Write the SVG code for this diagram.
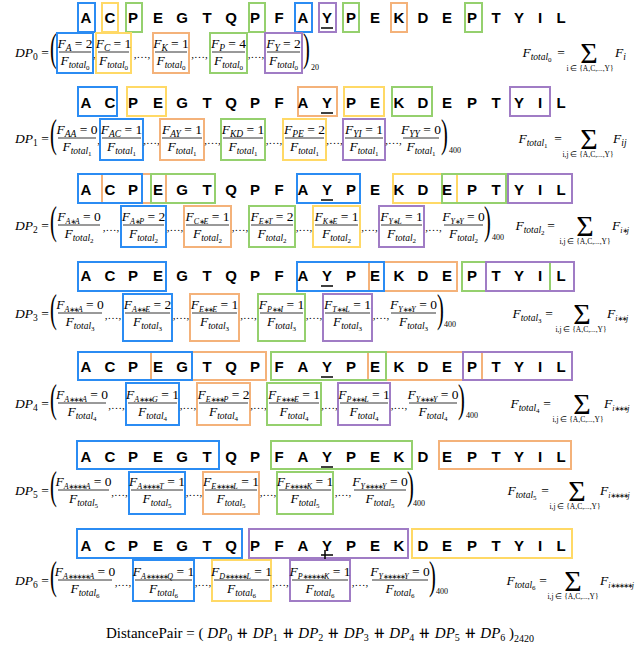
<svg xmlns="http://www.w3.org/2000/svg" width="640" height="651" viewBox="0 0 640 651">
<style>
.sq{font-family:"Liberation Sans",Arial,sans-serif;font-weight:bold;font-size:15px;text-anchor:middle;fill:#000}
.m{font-family:"Liberation Serif","Times New Roman",serif;font-size:13.5px;fill:#000}
.mc{text-anchor:middle}
.it{font-style:italic}
.s1{font-size:9.5px;font-style:italic}
.s3{font-size:8px;font-style:italic}
.st{font-family:"DejaVu Sans",sans-serif;font-style:normal;font-size:7px;letter-spacing:-1.6px}
.s2{font-size:7px;font-style:normal}
.sd{font-size:9.5px;font-style:normal}
.sep{font-family:"Liberation Serif",serif;font-size:11px;text-anchor:middle}
.par{font-family:"Liberation Serif",serif;font-size:41px}
.sig{font-family:"Liberation Serif",serif;font-size:30px;text-anchor:middle}
.ix{font-family:"Liberation Serif",serif;font-size:7.5px;text-anchor:middle}
.cnt{font-family:"Liberation Serif",serif;font-size:8px}
.b{fill:none;stroke-width:2}
.bl{stroke:#2b8cf3}.ye{stroke:#ffd966}.or{stroke:#f4b27a}.gr{stroke:#95d06e}.pu{stroke:#a07cc5}
.fl{stroke:#000;stroke-width:0.8}
.ul{stroke:#000;stroke-width:1.5}
</style>
<defs>
<text id="lp" class="par" transform="scale(0.5,1)">(</text>
<text id="rp" class="par" transform="scale(0.5,1)">)</text>
<text id="sp" class="sep">,…,</text>
<text id="cm" class="sep">,</text>
<text id="d0" class="m mc"><tspan class="it">F</tspan><tspan class="s1" dy="3">total</tspan><tspan class="s2" dy="2">0</tspan></text>
<text id="d1" class="m mc"><tspan class="it">F</tspan><tspan class="s1" dy="3">total</tspan><tspan class="s2" dy="2">1</tspan></text>
<text id="d2" class="m mc"><tspan class="it">F</tspan><tspan class="s1" dy="3">total</tspan><tspan class="s2" dy="2">2</tspan></text>
<text id="d3" class="m mc"><tspan class="it">F</tspan><tspan class="s1" dy="3">total</tspan><tspan class="s2" dy="2">3</tspan></text>
<text id="d4" class="m mc"><tspan class="it">F</tspan><tspan class="s1" dy="3">total</tspan><tspan class="s2" dy="2">4</tspan></text>
<text id="d5" class="m mc"><tspan class="it">F</tspan><tspan class="s1" dy="3">total</tspan><tspan class="s2" dy="2">5</tspan></text>
<text id="d6" class="m mc"><tspan class="it">F</tspan><tspan class="s1" dy="3">total</tspan><tspan class="s2" dy="2">6</tspan></text>
<text id="seqt" class="sq" x="86 110 133 158 182 207 231 255 279 303 327 351 375 399 423 447 472 496 519 540 561">ACPEGTQPFAYPEKDEPTYIL</text>
<line id="u" class="ul" x1="321" x2="333" y1="0" y2="0"/>
<text id="eq" class="m mc">=</text>
<text id="sg" class="sig">Σ</text>
<text id="ix1" class="ix">i,j ∈ {A,C,...,Y}</text>
</defs>

<!-- ROW 0 -->
<g id="seq0">
<rect class="b bl" x="78" y="3" width="17" height="29"/>
<rect class="b ye" x="102" y="3" width="16" height="29"/>
<rect class="b gr" x="126" y="3" width="16" height="29"/>
<rect class="b gr" x="249" y="3" width="16" height="29"/>
<rect class="b bl" x="295" y="3" width="17" height="29"/>
<rect class="b pu" x="319" y="3" width="17" height="29"/>
<rect class="b gr" x="343" y="3" width="16" height="29"/>
<rect class="b or" x="391" y="3" width="16" height="29"/>
<rect class="b gr" x="465" y="3" width="17" height="29"/>
<use href="#seqt" y="23"/>
<use href="#u" y="28"/>
</g>
<g id="dp0">
<text class="m" x="15" y="57"><tspan class="it">DP</tspan><tspan class="sd" dy="3">0</tspan><tspan dy="-3"> =</tspan></text>
<use href="#lp" x="50" y="61"/>
<rect class="b bl" x="57" y="33" width="36" height="40"/>
<text class="m mc" x="75" y="48"><tspan class="it">F</tspan><tspan class="s1" dy="3">A</tspan><tspan dy="-3"> = 2</tspan></text>
<line class="fl" x1="59" x2="91" y1="52" y2="52"/><use href="#d0" x="75" y="65"/>
<use href="#cm" x="94.5" y="58"/>
<rect class="b ye" x="96" y="33" width="35" height="40"/>
<text class="m mc" x="113.5" y="48"><tspan class="it">F</tspan><tspan class="s1" dy="3">C</tspan><tspan dy="-3"> = 1</tspan></text>
<line class="fl" x1="98" x2="129" y1="52" y2="52"/><use href="#d0" x="113.5" y="65"/>
<use href="#sp" x="142" y="58"/>
<rect class="b or" x="153" y="33" width="36" height="40"/>
<text class="m mc" x="171" y="48"><tspan class="it">F</tspan><tspan class="s1" dy="3">K</tspan><tspan dy="-3"> = 1</tspan></text>
<line class="fl" x1="155" x2="187" y1="52" y2="52"/><use href="#d0" x="171" y="65"/>
<use href="#sp" x="199.5" y="58"/>
<rect class="b gr" x="210" y="33" width="37" height="40"/>
<text class="m mc" x="228.5" y="48"><tspan class="it">F</tspan><tspan class="s1" dy="3">P</tspan><tspan dy="-3"> = 4</tspan></text>
<line class="fl" x1="212" x2="245" y1="52" y2="52"/><use href="#d0" x="228.5" y="65"/>
<use href="#sp" x="256" y="58"/>
<rect class="b pu" x="265" y="33" width="37" height="40"/>
<text class="m mc" x="283.5" y="48"><tspan class="it">F</tspan><tspan class="s1" dy="3">Y</tspan><tspan dy="-3"> = 2</tspan></text>
<line class="fl" x1="267" x2="300" y1="52" y2="52"/><use href="#d0" x="283.5" y="65"/>
<use href="#rp" x="303" y="61"/>
<text class="cnt" x="311" y="70">20</text>
<use href="#d0" x="537" y="57"/><use href="#eq" x="561" y="57"/><use href="#sg" x="589" y="63"/>
<text class="ix" x="590" y="71">i ∈ {A,C,...,Y}</text>
<text class="m" x="615" y="57"><tspan class="it">F</tspan><tspan class="s1" dy="3">i</tspan></text>
</g>

<!-- ROW 1 -->
<g id="seq1">
<rect class="b bl" x="78" y="87" width="39" height="29"/>
<rect class="b ye" x="127" y="87" width="39" height="29"/>
<rect class="b or" x="298" y="87" width="39" height="29"/>
<rect class="b ye" x="344" y="87" width="40" height="29"/>
<rect class="b gr" x="392" y="87" width="40" height="29"/>
<rect class="b pu" x="510" y="87" width="40" height="29"/>
<use href="#seqt" y="108"/>
<use href="#u" y="113"/>
</g>
<g id="dp1">
<text class="m" x="15" y="143"><tspan class="it">DP</tspan><tspan class="sd" dy="3">1</tspan><tspan dy="-3"> =</tspan></text>
<use href="#lp" x="50" y="147"/>
<text class="m mc" x="77" y="134"><tspan class="it">F</tspan><tspan class="s1" dy="3">AA</tspan><tspan dy="-3"> = 0</tspan></text>
<line class="fl" x1="58" x2="96" y1="138" y2="138"/><use href="#d1" x="77" y="151"/>
<use href="#cm" x="98.5" y="144"/>
<rect class="b bl" x="100" y="119" width="43" height="41"/>
<text class="m mc" x="121.5" y="134"><tspan class="it">F</tspan><tspan class="s1" dy="3">AC</tspan><tspan dy="-3"> = 1</tspan></text>
<line class="fl" x1="102" x2="141" y1="138" y2="138"/><use href="#d1" x="121.5" y="151"/>
<use href="#sp" x="151.5" y="144"/>
<rect class="b or" x="160" y="119" width="44" height="41"/>
<text class="m mc" x="182" y="134"><tspan class="it">F</tspan><tspan class="s1" dy="3">AY</tspan><tspan dy="-3"> = 1</tspan></text>
<line class="fl" x1="162" x2="202" y1="138" y2="138"/><use href="#d1" x="182" y="151"/>
<use href="#sp" x="212.5" y="144"/>
<rect class="b gr" x="221" y="119" width="44" height="41"/>
<text class="m mc" x="243" y="134"><tspan class="it">F</tspan><tspan class="s1" dy="3">KD</tspan><tspan dy="-3"> = 1</tspan></text>
<line class="fl" x1="223" x2="263" y1="138" y2="138"/><use href="#d1" x="243" y="151"/>
<use href="#sp" x="274" y="144"/>
<rect class="b ye" x="283" y="119" width="43" height="41"/>
<text class="m mc" x="304.5" y="134"><tspan class="it">F</tspan><tspan class="s1" dy="3">PE</tspan><tspan dy="-3"> = 2</tspan></text>
<line class="fl" x1="285" x2="324" y1="138" y2="138"/><use href="#d1" x="304.5" y="151"/>
<use href="#sp" x="334.5" y="144"/>
<rect class="b pu" x="343" y="119" width="42" height="41"/>
<text class="m mc" x="364" y="134"><tspan class="it">F</tspan><tspan class="s1" dy="3">YI</tspan><tspan dy="-3"> = 1</tspan></text>
<line class="fl" x1="345" x2="383" y1="138" y2="138"/><use href="#d1" x="364" y="151"/>
<use href="#sp" x="393.5" y="144"/>
<text class="m mc" x="421" y="134"><tspan class="it">F</tspan><tspan class="s1" dy="3">YY</tspan><tspan dy="-3"> = 0</tspan></text>
<line class="fl" x1="403" x2="439" y1="138" y2="138"/><use href="#d1" x="421" y="151"/>
<use href="#rp" x="441" y="147"/>
<text class="cnt" x="449" y="153">400</text>
<use href="#d1" x="533" y="143"/><use href="#eq" x="558" y="143"/><use href="#sg" x="589" y="149"/>
<use href="#ix1" x="588" y="157"/>
<text class="m" x="613" y="143"><tspan class="it">F</tspan><tspan class="s1" dy="3">ij</tspan></text>
</g>

<!-- ROW 2 -->
<g id="seq2">
<rect class="b or" x="102" y="174" width="64" height="29"/>
<rect class="b bl" x="78" y="174" width="64" height="29"/>
<rect class="b gr" x="151" y="174" width="64" height="29"/>
<rect class="b bl" x="297" y="174" width="63" height="29"/>
<rect class="b ye" x="393" y="174" width="64" height="29"/>
<rect class="b gr" x="442" y="174" width="64" height="29"/>
<rect class="b pu" x="508" y="174" width="64" height="29"/>
<use href="#seqt" y="195"/>
<use href="#u" y="200"/>
</g>
<g id="dp2">
<text class="m" x="15" y="230"><tspan class="it">DP</tspan><tspan class="sd" dy="3">2</tspan><tspan dy="-3"> =</tspan></text>
<use href="#lp" x="50" y="234"/>
<text class="m mc" x="79" y="221"><tspan class="it">F</tspan><tspan class="s3" dy="3">A<tspan class="st">∗</tspan>A</tspan><tspan dy="-3"> = 0</tspan></text>
<line class="fl" x1="58" x2="100" y1="225" y2="225"/><use href="#d2" x="79" y="238"/>
<use href="#sp" x="111" y="231"/>
<rect class="b bl" x="121" y="206" width="45" height="41"/>
<text class="m mc" x="143.5" y="221"><tspan class="it">F</tspan><tspan class="s3" dy="3">A<tspan class="st">∗</tspan>P</tspan><tspan dy="-3"> = 2</tspan></text>
<line class="fl" x1="123" x2="164" y1="225" y2="225"/><use href="#d2" x="143.5" y="238"/>
<use href="#sp" x="175" y="231"/>
<rect class="b or" x="184" y="206" width="47" height="41"/>
<text class="m mc" x="207.5" y="221"><tspan class="it">F</tspan><tspan class="s3" dy="3">C<tspan class="st">∗</tspan>E</tspan><tspan dy="-3"> = 1</tspan></text>
<line class="fl" x1="186" x2="229" y1="225" y2="225"/><use href="#d2" x="207.5" y="238"/>
<use href="#sp" x="240" y="231"/>
<rect class="b gr" x="249" y="206" width="46" height="41"/>
<text class="m mc" x="272" y="221"><tspan class="it">F</tspan><tspan class="s3" dy="3">E<tspan class="st">∗</tspan>T</tspan><tspan dy="-3"> = 2</tspan></text>
<line class="fl" x1="251" x2="293" y1="225" y2="225"/><use href="#d2" x="272" y="238"/>
<use href="#sp" x="304" y="231"/>
<rect class="b ye" x="313" y="206" width="47" height="41"/>
<text class="m mc" x="336.5" y="221"><tspan class="it">F</tspan><tspan class="s3" dy="3">K<tspan class="st">∗</tspan>E</tspan><tspan dy="-3"> = 1</tspan></text>
<line class="fl" x1="315" x2="358" y1="225" y2="225"/><use href="#d2" x="336.5" y="238"/>
<use href="#sp" x="369.5" y="231"/>
<rect class="b pu" x="379" y="206" width="45" height="41"/>
<text class="m mc" x="401.5" y="221"><tspan class="it">F</tspan><tspan class="s3" dy="3">Y<tspan class="st">∗</tspan>L</tspan><tspan dy="-3"> = 1</tspan></text>
<line class="fl" x1="381" x2="422" y1="225" y2="225"/><use href="#d2" x="401.5" y="238"/>
<use href="#sp" x="433.5" y="231"/>
<text class="m mc" x="463.5" y="221"><tspan class="it">F</tspan><tspan class="s3" dy="3">Y<tspan class="st">∗</tspan>Y</tspan><tspan dy="-3"> = 0</tspan></text>
<line class="fl" x1="444" x2="483" y1="225" y2="225"/><use href="#d2" x="463.5" y="238"/>
<use href="#rp" x="484" y="234"/>
<text class="cnt" x="492" y="240">400</text>
<use href="#d2" x="530" y="230"/><use href="#eq" x="551" y="230"/><use href="#sg" x="585" y="236"/>
<use href="#ix1" x="585" y="244"/>
<text class="m" x="612" y="230"><tspan class="it">F</tspan><tspan class="s3" dy="3">i<tspan class="st">∗</tspan>j</tspan></text>
</g>

<!-- ROW 3 -->
<g id="seq3">
<rect class="b bl" x="78" y="262" width="88" height="29"/>
<rect class="b or" x="369" y="262" width="88" height="29"/>
<rect class="b bl" x="297" y="262" width="87" height="29"/>
<rect class="b gr" x="462" y="262" width="88" height="29"/>
<rect class="b pu" x="486" y="262" width="88" height="29"/>
<use href="#seqt" y="281"/>
<use href="#u" y="286"/>
</g>
<g id="dp3">
<text class="m" x="15" y="318"><tspan class="it">DP</tspan><tspan class="sd" dy="3">3</tspan><tspan dy="-3"> =</tspan></text>
<use href="#lp" x="50" y="322"/>
<text class="m mc" x="80" y="309"><tspan class="it">F</tspan><tspan class="s3" dy="3">A<tspan class="st">∗∗</tspan>A</tspan><tspan dy="-3"> = 0</tspan></text>
<line class="fl" x1="58" x2="102" y1="313" y2="313"/><use href="#d3" x="80" y="326"/>
<use href="#sp" x="113" y="319"/>
<rect class="b bl" x="123" y="294" width="49" height="47"/>
<text class="m mc" x="147.5" y="309"><tspan class="it">F</tspan><tspan class="s3" dy="3">A<tspan class="st">∗∗</tspan>E</tspan><tspan dy="-3"> = 2</tspan></text>
<line class="fl" x1="125" x2="170" y1="313" y2="313"/><use href="#d3" x="147.5" y="326"/>
<use href="#sp" x="181" y="319"/>
<rect class="b or" x="190" y="294" width="49" height="47"/>
<text class="m mc" x="214.5" y="309"><tspan class="it">F</tspan><tspan class="s3" dy="3">E<tspan class="st">∗∗</tspan>E</tspan><tspan dy="-3"> = 1</tspan></text>
<line class="fl" x1="192" x2="237" y1="313" y2="313"/><use href="#d3" x="214.5" y="326"/>
<use href="#sp" x="248.5" y="319"/>
<rect class="b gr" x="258" y="294" width="47" height="47"/>
<text class="m mc" x="281.5" y="309"><tspan class="it">F</tspan><tspan class="s3" dy="3">P<tspan class="st">∗∗</tspan>I</tspan><tspan dy="-3"> = 1</tspan></text>
<line class="fl" x1="260" x2="303" y1="313" y2="313"/><use href="#d3" x="281.5" y="326"/>
<use href="#sp" x="314" y="319"/>
<rect class="b pu" x="323" y="294" width="49" height="47"/>
<text class="m mc" x="347.5" y="309"><tspan class="it">F</tspan><tspan class="s3" dy="3">T<tspan class="st">∗∗</tspan>L</tspan><tspan dy="-3"> = 1</tspan></text>
<line class="fl" x1="325" x2="370" y1="313" y2="313"/><use href="#d3" x="347.5" y="326"/>
<use href="#sp" x="381" y="319"/>
<text class="m mc" x="413.5" y="309"><tspan class="it">F</tspan><tspan class="s3" dy="3">Y<tspan class="st">∗∗</tspan>Y</tspan><tspan dy="-3"> = 0</tspan></text>
<line class="fl" x1="391" x2="436" y1="313" y2="313"/><use href="#d3" x="413.5" y="326"/>
<use href="#rp" x="437" y="322"/>
<text class="cnt" x="444" y="327">400</text>
<use href="#d3" x="527" y="318"/><use href="#eq" x="549" y="318"/><use href="#sg" x="582" y="324"/>
<use href="#ix1" x="581" y="332"/>
<text class="m" x="607" y="318"><tspan class="it">F</tspan><tspan class="s3" dy="3">i<tspan class="st">∗∗</tspan>j</tspan></text>
</g>

<!-- ROW 4 -->
<g id="seq4">
<rect class="b or" x="151" y="352" width="115" height="28"/>
<rect class="b bl" x="78" y="352" width="114" height="28"/>
<rect class="b or" x="368" y="352" width="114" height="28"/>
<rect class="b gr" x="271" y="352" width="115" height="28"/>
<rect class="b pu" x="463" y="352" width="109" height="28"/>
<use href="#seqt" y="372"/>
<use href="#u" y="377"/>
</g>
<g id="dp4">
<text class="m" x="15" y="408"><tspan class="it">DP</tspan><tspan class="sd" dy="3">4</tspan><tspan dy="-3"> =</tspan></text>
<use href="#lp" x="50" y="412"/>
<text class="m mc" x="82" y="399"><tspan class="it">F</tspan><tspan class="s3" dy="3">A<tspan class="st">∗∗∗</tspan>A</tspan><tspan dy="-3"> = 0</tspan></text>
<line class="fl" x1="58" x2="106" y1="403" y2="403"/><use href="#d4" x="82" y="416"/>
<use href="#sp" x="116.5" y="409"/>
<rect class="b bl" x="126" y="383" width="53" height="42"/>
<text class="m mc" x="152.5" y="399"><tspan class="it">F</tspan><tspan class="s3" dy="3">A<tspan class="st">∗∗∗</tspan>G</tspan><tspan dy="-3"> = 1</tspan></text>
<line class="fl" x1="128" x2="177" y1="403" y2="403"/><use href="#d4" x="152.5" y="416"/>
<use href="#sp" x="188" y="409"/>
<rect class="b or" x="197" y="383" width="53" height="42"/>
<text class="m mc" x="223.5" y="399"><tspan class="it">F</tspan><tspan class="s3" dy="3">E<tspan class="st">∗∗∗</tspan>P</tspan><tspan dy="-3"> = 2</tspan></text>
<line class="fl" x1="199" x2="248" y1="403" y2="403"/><use href="#d4" x="223.5" y="416"/>
<use href="#sp" x="258.5" y="409"/>
<rect class="b gr" x="267" y="383" width="54" height="42"/>
<text class="m mc" x="294" y="399"><tspan class="it">F</tspan><tspan class="s3" dy="3">F<tspan class="st">∗∗∗</tspan>E</tspan><tspan dy="-3"> = 1</tspan></text>
<line class="fl" x1="269" x2="319" y1="403" y2="403"/><use href="#d4" x="294" y="416"/>
<use href="#sp" x="329.5" y="409"/>
<rect class="b pu" x="338" y="383" width="52" height="42"/>
<text class="m mc" x="364" y="399"><tspan class="it">F</tspan><tspan class="s3" dy="3">P<tspan class="st">∗∗∗</tspan>L</tspan><tspan dy="-3"> = 1</tspan></text>
<line class="fl" x1="340" x2="388" y1="403" y2="403"/><use href="#d4" x="364" y="416"/>
<use href="#sp" x="399" y="409"/>
<text class="m mc" x="433" y="399"><tspan class="it">F</tspan><tspan class="s3" dy="3">Y<tspan class="st">∗∗∗</tspan>Y</tspan><tspan dy="-3"> = 0</tspan></text>
<line class="fl" x1="409" x2="457" y1="403" y2="403"/><use href="#d4" x="433" y="416"/>
<use href="#rp" x="458" y="412"/>
<text class="cnt" x="466" y="418">400</text>
<use href="#d4" x="525" y="408"/><use href="#eq" x="547" y="408"/><use href="#sg" x="582" y="414"/>
<use href="#ix1" x="578" y="422"/>
<text class="m" x="604" y="408"><tspan class="it">F</tspan><tspan class="s3" dy="3">i<tspan class="st">∗∗∗</tspan>j</tspan></text>
</g>

<!-- ROW 5 -->
<g id="seq5">
<rect class="b bl" x="77" y="441" width="142" height="28"/>
<rect class="b gr" x="271" y="441" width="141" height="28"/>
<rect class="b or" x="439" y="441" width="132" height="28"/>
<use href="#seqt" y="462"/>
<use href="#u" y="467"/>
</g>
<g id="dp5">
<text class="m" x="15" y="495"><tspan class="it">DP</tspan><tspan class="sd" dy="3">5</tspan><tspan dy="-3"> =</tspan></text>
<use href="#lp" x="50" y="499"/>
<text class="m mc" x="83.5" y="486"><tspan class="it">F</tspan><tspan class="s3" dy="3">A<tspan class="st">∗∗∗∗</tspan>A</tspan><tspan dy="-3"> = 0</tspan></text>
<line class="fl" x1="58" x2="109" y1="490" y2="490"/><use href="#d5" x="83.5" y="503"/>
<use href="#sp" x="119.5" y="496"/>
<rect class="b bl" x="129" y="472" width="56" height="42"/>
<text class="m mc" x="157" y="486"><tspan class="it">F</tspan><tspan class="s3" dy="3">A<tspan class="st">∗∗∗∗</tspan>T</tspan><tspan dy="-3"> = 1</tspan></text>
<line class="fl" x1="131" x2="183" y1="490" y2="490"/><use href="#d5" x="157" y="503"/>
<use href="#sp" x="194" y="496"/>
<rect class="b or" x="203" y="472" width="56" height="42"/>
<text class="m mc" x="231" y="486"><tspan class="it">F</tspan><tspan class="s3" dy="3">E<tspan class="st">∗∗∗∗</tspan>L</tspan><tspan dy="-3"> = 1</tspan></text>
<line class="fl" x1="205" x2="257" y1="490" y2="490"/><use href="#d5" x="231" y="503"/>
<use href="#sp" x="268" y="496"/>
<rect class="b gr" x="277" y="472" width="56" height="42"/>
<text class="m mc" x="305" y="486"><tspan class="it">F</tspan><tspan class="s3" dy="3">F<tspan class="st">∗∗∗∗</tspan>K</tspan><tspan dy="-3"> = 1</tspan></text>
<line class="fl" x1="279" x2="331" y1="490" y2="490"/><use href="#d5" x="305" y="503"/>
<use href="#sp" x="343" y="496"/>
<text class="m mc" x="380" y="486"><tspan class="it">F</tspan><tspan class="s3" dy="3">Y<tspan class="st">∗∗∗∗</tspan>Y</tspan><tspan dy="-3"> = 0</tspan></text>
<line class="fl" x1="354" x2="406" y1="490" y2="490"/><use href="#d5" x="380" y="503"/>
<use href="#rp" x="407" y="499"/>
<text class="cnt" x="413" y="506">400</text>
<use href="#d5" x="522" y="495"/><use href="#eq" x="545" y="495"/><use href="#sg" x="577" y="501"/>
<use href="#ix1" x="575" y="509"/>
<text class="m" x="600" y="495"><tspan class="it">F</tspan><tspan class="s3" dy="3">i<tspan class="st">∗∗∗∗</tspan>j</tspan></text>
</g>

<!-- ROW 6 -->
<g id="seq6">
<rect class="b bl" x="77" y="529" width="165" height="29"/>
<rect class="b pu" x="249" y="529" width="159" height="29"/>
<rect class="b ye" x="412" y="529" width="160" height="29"/>
<use href="#seqt" y="551"/>
<use href="#u" y="555"/>
<line class="ul" x1="325" y1="550" x2="325" y2="560" stroke-width="1"/>
</g>
<g id="dp6">
<text class="m" x="15" y="585"><tspan class="it">DP</tspan><tspan class="sd" dy="3">6</tspan><tspan dy="-3"> =</tspan></text>
<use href="#lp" x="50" y="589"/>
<text class="m mc" x="85" y="576"><tspan class="it">F</tspan><tspan class="s3" dy="3">A<tspan class="st">∗∗∗∗∗</tspan>A</tspan><tspan dy="-3"> = 0</tspan></text>
<line class="fl" x1="58" x2="112" y1="580" y2="580"/><use href="#d6" x="85" y="593"/>
<use href="#sp" x="123" y="586"/>
<rect class="b bl" x="133" y="560" width="61" height="41"/>
<text class="m mc" x="163.5" y="576"><tspan class="it">F</tspan><tspan class="s3" dy="3">A<tspan class="st">∗∗∗∗∗</tspan>Q</tspan><tspan dy="-3"> = 1</tspan></text>
<line class="fl" x1="135" x2="192" y1="580" y2="580"/><use href="#d6" x="163.5" y="593"/>
<use href="#sp" x="203" y="586"/>
<rect class="b ye" x="212" y="560" width="59" height="41"/>
<text class="m mc" x="241.5" y="576"><tspan class="it">F</tspan><tspan class="s3" dy="3">D<tspan class="st">∗∗∗∗∗</tspan>L</tspan><tspan dy="-3"> = 1</tspan></text>
<line class="fl" x1="214" x2="269" y1="580" y2="580"/><use href="#d6" x="241.5" y="593"/>
<use href="#sp" x="280.5" y="586"/>
<rect class="b pu" x="290" y="560" width="60" height="41"/>
<text class="m mc" x="320" y="576"><tspan class="it">F</tspan><tspan class="s3" dy="3">P<tspan class="st">∗∗∗∗∗</tspan>K</tspan><tspan dy="-3"> = 1</tspan></text>
<line class="fl" x1="292" x2="348" y1="580" y2="580"/><use href="#d6" x="320" y="593"/>
<use href="#sp" x="360" y="586"/>
<text class="m mc" x="400" y="576"><tspan class="it">F</tspan><tspan class="s3" dy="3">Y<tspan class="st">∗∗∗∗∗</tspan>Y</tspan><tspan dy="-3"> = 0</tspan></text>
<line class="fl" x1="372" x2="428" y1="580" y2="580"/><use href="#d6" x="400" y="593"/>
<use href="#rp" x="429" y="589"/>
<text class="cnt" x="436" y="594">400</text>
<use href="#d6" x="521" y="585"/><use href="#eq" x="543" y="585"/><use href="#sg" x="573" y="591"/>
<use href="#ix1" x="573" y="599"/>
<text class="m" x="600" y="585"><tspan class="it">F</tspan><tspan class="s3" dy="3">i<tspan class="st">∗∗∗∗∗</tspan>j</tspan></text>
</g>

<!-- total -->
<g id="distancepair">
<text class="m" x="320" y="638" text-anchor="middle" style="font-size:15px">DistancePair = ( <tspan class="it">DP</tspan><tspan font-size="10" dy="3">0</tspan><tspan dy="-3"> ⧺ </tspan><tspan class="it">DP</tspan><tspan font-size="10" dy="3">1</tspan><tspan dy="-3"> ⧺ </tspan><tspan class="it">DP</tspan><tspan font-size="10" dy="3">2</tspan><tspan dy="-3"> ⧺ </tspan><tspan class="it">DP</tspan><tspan font-size="10" dy="3">3</tspan><tspan dy="-3"> ⧺ </tspan><tspan class="it">DP</tspan><tspan font-size="10" dy="3">4</tspan><tspan dy="-3"> ⧺ </tspan><tspan class="it">DP</tspan><tspan font-size="10" dy="3">5</tspan><tspan dy="-3"> ⧺ </tspan><tspan class="it">DP</tspan><tspan font-size="10" dy="3">6</tspan><tspan dy="-3"> )</tspan><tspan font-size="10" dy="4">2420</tspan></text>
</g>
</svg>
